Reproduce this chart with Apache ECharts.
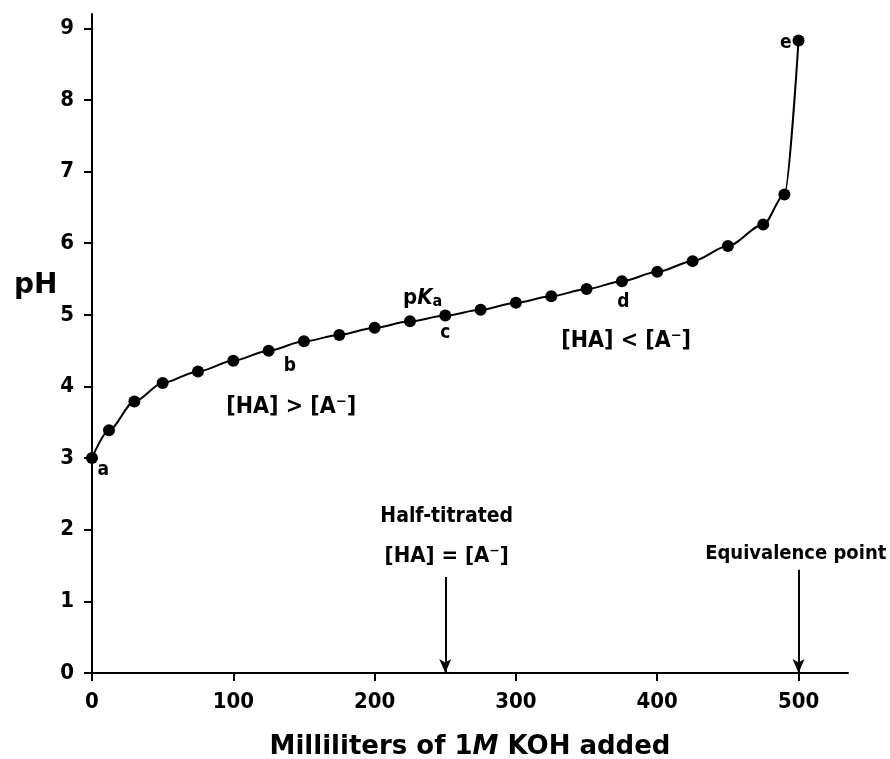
<!DOCTYPE html>
<html>
<head>
<meta charset="utf-8">
<script src="https://cdn.jsdelivr.net/npm/echarts@6/dist/echarts.min.js"></script>
<style>
html,body{margin:0;padding:0;background:#fff;}
#main{width:890px;height:759px;}
</style>
</head>
<body>
<div id="main"></div>
<script>
// titration data (ml KOH, pH)
var koh = [0, 12, 30, 50, 75, 100, 125, 150, 175, 200, 225, 250, 275, 300, 325, 350, 375, 400, 425, 450, 475, 490, 500];
var ph = [3.0, 3.39, 3.79, 4.05, 4.21, 4.36, 4.50, 4.63, 4.72, 4.82, 4.91, 4.99, 5.07, 5.17, 5.26, 5.36, 5.47, 5.60, 5.75, 5.96, 6.26, 6.68, 8.83];
var xTicks = [0, 100, 200, 300, 400, 500];
var yTicks = [0, 1, 2, 3, 4, 5, 6, 7, 8, 9];

// point letters
var letters = ['a', 'b', 'c', 'd', 'e'];
var letterX = [8, 140, 250, 376, 491];
var letterY = [2.84, 4.29, 4.75, 5.18, 8.8];

// text notes
var notes = ['{n|p}{i|K}{s|a}', '[HA] > [A\u207B]', '[HA] < [A\u207B]', 'Half-titrated', '[HA] = [A\u207B]', 'Equivalence point'];
var noteX = [234, 141, 378, 251, 251, 498];
var noteY = [5.27, 3.72, 4.64, 2.18, 1.63, 1.66];
var noteSize = [20, 23, 23, 21, 22, 20];

// arrows down to the axis
var arrowX = [250, 500];
var arrowTop = [1.34, 1.44];

var font = 'DejaVu Sans Condensed';

var letterData = letters.map(function (t, i) {
  return {value: [letterX[i], letterY[i]], label: {formatter: t}};
});
var noteData = notes.map(function (t, i) {
  return {value: [noteX[i], noteY[i]], label: {formatter: t, fontSize: noteSize[i]}};
});
var arrowData = arrowX.map(function (x, i) {
  return [{coord: [x, arrowTop[i]]}, {coord: [x, 0]}];
});

var myChart = echarts.init(document.getElementById('main'));
var option = {
  animation: false,
  backgroundColor: '#fff',
  grid: {left: 92, right: 42, top: 14, bottom: 86, outerBoundsMode: 'none', containLabel: false},
  xAxis: {
    type: 'value',
    min: 0,
    max: 535,
    splitLine: {show: false},
    axisLine: {lineStyle: {color: '#000', width: 2}},
    axisTick: {customValues: xTicks, length: 8, lineStyle: {color: '#000', width: 2}},
    axisLabel: {customValues: xTicks, color: '#000', fontFamily: font, fontWeight: 'bold', fontSize: 22, margin: 18},
    name: '{b|Milliliters of 1}{i|M}{b| KOH added}',
    nameLocation: 'middle',
    nameGap: 61,
    nameTextStyle: {
      rich: {
        b: {fontFamily: 'DejaVu Sans', fontWeight: 'bold', fontSize: 26, color: '#000'},
        i: {fontFamily: 'DejaVu Sans', fontWeight: 'bold', fontStyle: 'italic', fontSize: 26, color: '#000'}
      }
    }
  },
  yAxis: {
    type: 'value',
    min: 0,
    max: 9.2,
    splitLine: {show: false},
    axisLine: {lineStyle: {color: '#000', width: 2}},
    axisTick: {customValues: yTicks, length: 8, lineStyle: {color: '#000', width: 2}},
    axisLabel: {customValues: yTicks, color: '#000', fontFamily: font, fontWeight: 'bold', fontSize: 22, margin: 18}
  },
  graphic: [{
    type: 'text',
    left: 14,
    top: 272,
    style: {text: 'pH', fill: '#000', font: 'bold 28px "DejaVu Sans"'}
  }],
  series: [
    {
      type: 'line',
      data: koh.map(function (x, i) { return [x, ph[i]]; }),
      smooth: 0.3,
      smoothMonotone: 'x',
      symbol: 'circle',
      symbolSize: 12,
      itemStyle: {color: '#000'},
      lineStyle: {color: '#000', width: 2},
      markLine: {
        silent: true,
        symbol: ['none', 'arrow'],
        symbolSize: [9, 14],
        label: {show: false},
        lineStyle: {color: '#000', width: 2, type: 'solid'},
        data: arrowData
      }
    },
    {
      type: 'scatter',
      symbolSize: 0,
      silent: true,
      itemStyle: {opacity: 1},
      data: letterData,
      label: {show: true, position: 'inside', color: '#000', fontFamily: font, fontSize: 19, fontWeight: 'bold'}
    },
    {
      type: 'scatter',
      symbolSize: 0,
      silent: true,
      itemStyle: {opacity: 1},
      data: noteData,
      label: {
        show: true,
        position: 'inside',
        color: '#000',
        fontFamily: font,
        fontWeight: 'bold',
        rich: {
          n: {fontFamily: font, fontWeight: 'bold', fontSize: 22, color: '#000', verticalAlign: 'bottom', lineHeight: 28},
          i: {fontFamily: font, fontWeight: 'bold', fontSize: 22, fontStyle: 'italic', color: '#000', verticalAlign: 'bottom', lineHeight: 28},
          s: {fontFamily: font, fontWeight: 'bold', fontSize: 16, color: '#000', verticalAlign: 'bottom', lineHeight: 20}
        }
      }
    }
  ]
};
myChart.setOption(option);
</script>
</body>
</html>
